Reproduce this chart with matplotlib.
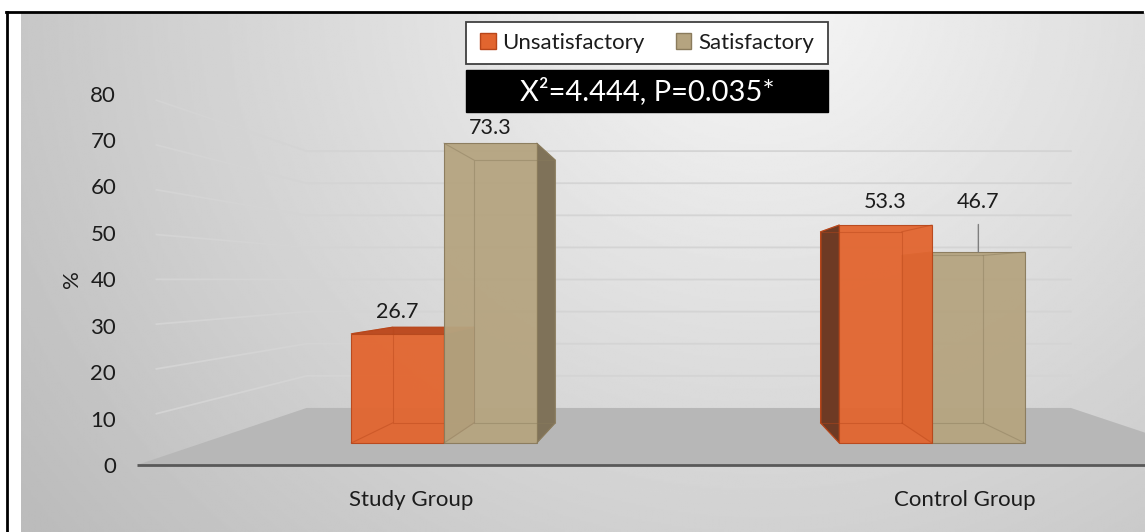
import numpy as np
import matplotlib
matplotlib.use('Agg')
import matplotlib.pyplot as plt
from matplotlib.patches import Polygon, Rectangle
from matplotlib.lines import Line2D

# ---------------- data ----------------
categories = ['Study Group', 'Control Group']
series_names = ['Unsatisfactory', 'Satisfactory']
unsatisfactory = [26.7, 53.3]
satisfactory = [73.3, 46.7]
y_ticks = [0, 10, 20, 30, 40, 50, 60, 70, 80]
y_label = '%'
stat_text = 'X\u00b2=4.444, P=0.035*'

# ---------------- style ----------------
plt.rcParams['font.family'] = ['Lato', 'DejaVu Sans']
TXT = '#1c1c1c'
front_colors = ['#e2652f', '#b5a480']
side_colors = ['#6e3a24', '#7f7259']
top_colors = ['#bd4c22', '#9c8c6a']
edge_colors = ['#b8461a', '#8a7b5c']

W, H, DPI = 1145, 532, 100
fig = plt.figure(figsize=(W / DPI, H / DPI), dpi=DPI)
fig.patch.set_facecolor('white')

# background gradient (decoration)
bg = fig.add_axes([21 / W, 0, 1 - 21 / W, (H - 13) / H], zorder=0)
xx = np.linspace(21, W, 600)
yy = np.linspace(13, H, 300)
GX, GY = np.meshgrid(xx, yy)
rr = np.sqrt(((GX - 760) / 760) ** 2 + (GY / 700) ** 2)
shade = 0.965 - 0.19 * np.clip(rr, 0, 1.2)
bg.imshow(shade, cmap='gray', vmin=0, vmax=1, aspect='auto',
          extent=(0, 1, 0, 1), origin='upper', interpolation='bilinear')
bg.axis('off')

# scene axes: x in category units, y in value units (bar front plane)
X0PX, XS = 444.0, 488.0
Y0PX, YS = 443.0, 4.09
bx = fig.add_axes([0, 0, 1, 1], zorder=1)
bx.set_xlim(-X0PX / XS, (W - X0PX) / XS)
bx.set_ylim((Y0PX - H) / YS, Y0PX / YS)
bx.axis('off')

VPX = (687 - X0PX) / XS
VPY = (Y0PX - 280) / YS
K_DEPTH = 0.123
T_FRONT = -0.135
T_BACK = 0.215
X_LEFT, X_RIGHT = -0.495, 1.5


def P(x, y, t):
    return (x + t * (VPX - x), y + t * (VPY - y))


# floor
floor = [P(X_LEFT, 0, T_FRONT), P(X_LEFT, 0, T_BACK),
         P(X_RIGHT, 0, T_BACK), P(X_RIGHT, 0, T_FRONT)]
bx.add_patch(Polygon(floor, closed=True, fc='#b7b7b7', ec='none', zorder=2))
fx0, fy0 = P(X_LEFT, 0, T_FRONT)
bx.plot([fx0, bx.get_xlim()[1]], [fy0, fy0], color='#595959', lw=2,
        zorder=3, solid_capstyle='butt')

# gridlines on side and back walls
for v in y_ticks[1:]:
    a = P(X_LEFT, v, T_FRONT + 0.04)
    b = P(X_LEFT, v, T_BACK)
    c = P(X_RIGHT, v, T_BACK)
    bx.plot([a[0], b[0], c[0]], [a[1], b[1], c[1]], color='#d4d4d4',
            lw=1.3, zorder=1.5)

# front-plane axis for tick labels
disp = bx.transData.transform
p0 = disp(P(X_LEFT, y_ticks[0], T_FRONT))
p1 = disp(P(X_LEFT, y_ticks[-1], T_FRONT))
ax = fig.add_axes([p0[0] / W, p0[1] / H, 1 - p0[0] / W, (p1[1] - p0[1]) / H], zorder=2)
ax.set_ylim(y_ticks[0], y_ticks[-1])
ax.set_xlim(P(X_LEFT, 0, T_FRONT)[0], bx.get_xlim()[1])
ax.set_yticks(y_ticks)
ax.set_xticks([P(i, 0, T_FRONT)[0] for i in range(len(categories))])
ax.set_xticklabels(categories)
ax.patch.set_visible(False)
for s in ax.spines.values():
    s.set_visible(False)
ax.tick_params(axis='y', length=0, labelsize=16, colors=TXT, pad=15)
ax.tick_params(axis='x', length=0, labelsize=16, colors=TXT, pad=18)
ax.set_ylabel(y_label, fontsize=16, color=TXT, labelpad=6)

# bars
BW = 0.19
series = [unsatisfactory, satisfactory]
offsets = [-BW, 0.0]
label_lift_px = [[5, 5], [13, 40]]
leader = [[False, False], [False, True]]

for i in range(len(categories)):
    order = sorted(range(len(series)),
                   key=lambda j: -abs(i + offsets[j] + BW / 2 - VPX))
    for rank, j in enumerate(order):
        z = 10 + 10 * rank
        v = series[j][i]
        x0 = i + offsets[j]
        x1 = x0 + BW
        F = [(x0, 0), (x1, 0), (x1, v), (x0, v)]
        B = [P(x, y, K_DEPTH) for x, y in F]
        ec = edge_colors[j]
        if x1 < VPX:
            side = [F[1], F[2], B[2], B[1]]
        else:
            side = [F[0], F[3], B[3], B[0]]
        bx.add_patch(Polygon(side, closed=True, fc=side_colors[j], ec=ec,
                             lw=0.8, zorder=z + 1))
        if v < VPY:
            top = [F[3], F[2], B[2], B[3]]
            bx.add_patch(Polygon(top, closed=True, fc=top_colors[j], ec=ec,
                                 lw=0.8, zorder=z + 2))
        bars = bx.bar([x0], [v], width=BW, align='edge', color=front_colors[j],
                      edgecolor=ec, linewidth=0.8, alpha=0.95)
        for p in bars:
            p.set_zorder(z + 3)
        # hidden edges seen through the translucent bar
        bx.add_patch(Polygon(B, closed=True, fill=False, ec=ec, lw=0.8,
                             alpha=0.45, zorder=z + 4))
        for (fx, fy), (qx, qy) in zip(F, B):
            bx.plot([fx, qx], [fy, qy], color=ec, lw=0.8, alpha=0.45, zorder=z + 4)
        # value label
        base = max(v, B[2][1]) if v < VPY else v
        if leader[i][j]:
            bx.annotate(f'{v}', xy=((x0 + x1) / 2, v),
                        xytext=(0, label_lift_px[i][j] * 72 / DPI),
                        textcoords='offset points', ha='center', va='bottom',
                        fontsize=15.5, color=TXT, zorder=60,
                        arrowprops=dict(arrowstyle='-', color='#7f7f7f', lw=1,
                                        shrinkA=7, shrinkB=0))
        else:
            bx.annotate(f'{v}', xy=((x0 + x1) / 2, base),
                        xytext=(0, label_lift_px[i][j] * 72 / DPI),
                        textcoords='offset points', ha='center', va='bottom',
                        fontsize=15.5, color=TXT, zorder=60)

# legend with its box
fig.add_artist(Rectangle((466 / W, 1 - 64 / H), 362 / W, 42 / H,
                         transform=fig.transFigure, fc='white', ec='#404040',
                         lw=1.3, zorder=5))
handles = [Rectangle((0, 0), 1, 1, fc=front_colors[j], ec=edge_colors[j])
           for j in range(len(series_names))]
leg = fig.legend(handles, series_names, loc='center',
                 bbox_to_anchor=(647 / W, 1 - 43 / H), ncol=2, frameon=False,
                 fontsize=16, handlelength=0.7, handleheight=0.7,
                 handletextpad=0.3, columnspacing=1.4)
leg.set_zorder(6)
for t in leg.get_texts():
    t.set_color(TXT)

# statistic box
fig.add_artist(Rectangle((466 / W, 1 - 112 / H), 362 / W, 42 / H,
                         transform=fig.transFigure, fc='black', ec='black',
                         zorder=5))
fig.text(647 / W, 1 - 91 / H, stat_text, color='white', fontsize=21,
         ha='center', va='center', zorder=6)

# outer frame lines
fig.add_artist(Line2D([6.5 / W, 6.5 / W], [0, 1 - 12 / H], color='black',
                      lw=2, transform=fig.transFigure, zorder=10))
fig.add_artist(Line2D([6 / W, 1142 / W], [1 - 12 / H, 1 - 12 / H],
                      color='black', lw=2, transform=fig.transFigure, zorder=10))

fig.savefig('out.png', dpi=DPI)
